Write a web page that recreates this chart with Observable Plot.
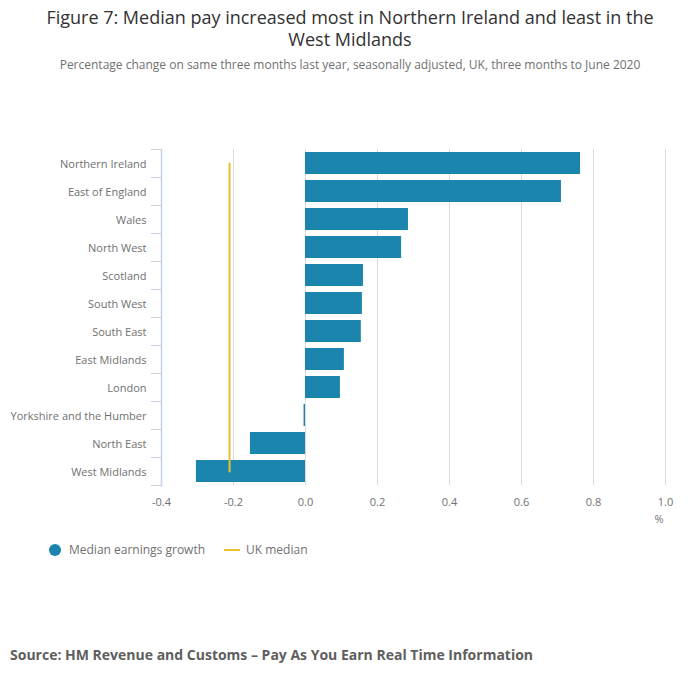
<!DOCTYPE html>
<html>
<head>
<meta charset="utf-8">
<script src="https://cdn.jsdelivr.net/npm/d3@7"></script>
<script src="https://cdn.jsdelivr.net/npm/@observablehq/plot@0.6"></script>
<style>
  body { margin: 0; background: #fff; font-family: "Open Sans", sans-serif; }
  #wrap { position: relative; width: 700px; height: 682px; }
  #title { position: absolute; top: 6px; left: 0; width: 700px; text-align: center; font-size: 18px; line-height: 22px; color: #323132; }
  #subtitle { position: absolute; top: 56px; left: 0; width: 700px; text-align: center; font-size: 12px; color: #707071; }
  #chart { position: absolute; top: 81px; left: 0; }
  #legend { position: absolute; top: 541px; left: 49px; font-size: 12px; color: #707071; display: flex; align-items: center; }
  .sw-dot { width: 12px; height: 12px; border-radius: 50%; background: #1b85ad; display: inline-block; margin-right: 8px; }
  .sw-line { width: 16px; height: 2px; background: #e9c12e; display: inline-block; margin: 0 6px 0 19px; }
  #source { position: absolute; top: 645px; left: 10px; font-size: 14px; font-weight: bold; color: #5e5e5e; }
</style>
</head>
<body>
<div id="wrap">
  <div id="title">Figure 7: Median pay increased most in Northern Ireland and least in the<br>West Midlands</div>
  <div id="subtitle">Percentage change on same three months last year, seasonally adjusted, UK, three months to June 2020</div>
  <div id="chart"></div>
  <div id="legend"><span class="sw-dot"></span><span>Median earnings growth</span><span class="sw-line"></span><span>UK median</span></div>
  <div id="source">Source: HM Revenue and Customs – Pay As You Earn Real Time Information</div>
</div>
<script>
const regions = ["Northern Ireland", "East of England", "Wales", "North West", "Scotland", "South West", "South East", "East Midlands", "London", "Yorkshire and the Humber", "North East", "West Midlands"];
const growth = [0.764, 0.711, 0.286, 0.267, 0.161, 0.158, 0.155, 0.108, 0.097, -0.004, -0.153, -0.303];
const ukMedian = -0.211;
const xTicks = [-0.4, -0.2, 0.0, 0.2, 0.4, 0.6, 0.8, 1.0];
const xUnit = "%";

const barData = regions.map((r, i) => ({region: r, value: growth[i]}));
const medianData = [regions[0], regions[regions.length - 1]].map(r => ({region: r, value: ukMedian}));

const axisColor = "#c6d1e6";
const textColor = "#707071";

const plot = Plot.plot({
  width: 700,
  height: 450,
  marginTop: 68,
  marginBottom: 46,
  marginLeft: 161,
  marginRight: 35,
  style: {fontFamily: "Open Sans, sans-serif", fontSize: "11px", color: textColor, background: "transparent"},
  x: {domain: [-0.4, 1.0], ticks: xTicks},
  y: {domain: regions, paddingInner: 0.21, paddingOuter: 0.1},
  marks: [
    Plot.gridX(xTicks, {stroke: "#dadada", strokeOpacity: 1}),
    Plot.barX(barData, {x: "value", y: "region", fill: "#1b85ad"}),
    Plot.line(medianData, {x: "value", y: "region", stroke: "#e9c12e", strokeWidth: 2}),
    Plot.axisX(xTicks, {tickSize: 0, tickPadding: 13, tickFormat: d => d.toFixed(1), label: null, fill: textColor}),
    Plot.text([xUnit], {frameAnchor: "bottom-right", text: d => d, dy: 37, dx: -2, textAnchor: "end", fill: textColor}),
    Plot.axisY({tickSize: 0, tickPadding: 15, label: null, fill: textColor, dy: 1}),
    Plot.axisY({ticks: regions, tickSize: 10, text: null, dy: -14, stroke: axisColor, label: null}),
    Plot.axisY({ticks: [regions[regions.length - 1]], tickSize: 10, text: null, dy: 14, stroke: axisColor, label: null}),
    Plot.frame({anchor: "left", stroke: axisColor, strokeWidth: 1.5})
  ]
});
document.getElementById("chart").appendChild(plot);
</script>
</body>
</html>
